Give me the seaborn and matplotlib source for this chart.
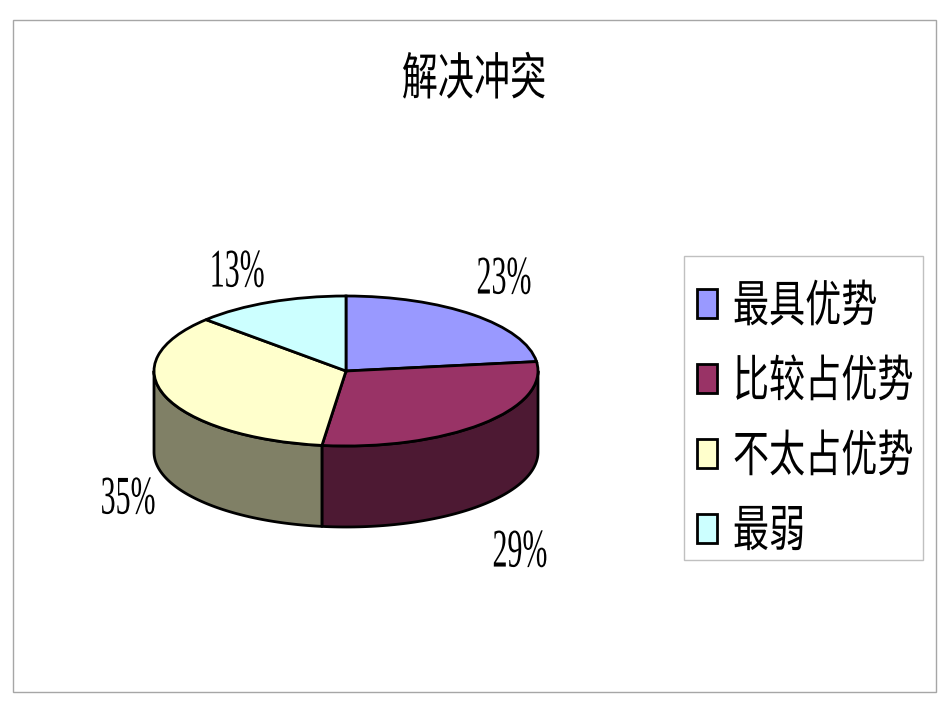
import numpy as np
import matplotlib
matplotlib.use("Agg")
import matplotlib.pyplot as plt
from matplotlib.patches import Rectangle, Patch
from matplotlib.patheffects import AbstractPathEffect
from matplotlib.transforms import Affine2D
import seaborn as sns

title = "解决冲突"
categories = ["最具优势", "比较占优势", "不太占优势", "最弱"]
values = [23, 29, 35, 13]
top_colors = ["#9999FF", "#993366", "#FFFFCC", "#CCFFFF"]
side_colors = ["#4D4D80", "#4D1933", "#808066", "#668080"]


class Stretch(AbstractPathEffect):
    """Draw real text narrower/taller about its own centre."""
    def __init__(self, sx, sy):
        super().__init__()
        self.sx, self.sy = sx, sy

    def draw_path(self, renderer, gc, tpath, affine, rgbFace=None):
        box = tpath.transformed(affine).get_extents()
        cx, cy = (box.x0 + box.x1) / 2, (box.y0 + box.y1) / 2
        st = Affine2D().translate(-cx, -cy).scale(self.sx, self.sy).translate(cx, cy)
        renderer.draw_path(gc, tpath, affine + st, rgbFace)


sns.set_theme(style="white")
plt.rcParams["font.family"] = ["Noto Sans CJK SC", "DejaVu Sans"]
W, H = 950, 713
fig = plt.figure(figsize=(W / 100, H / 100), dpi=100, facecolor="white")
ax = fig.add_axes([0, 0, 1, 1])

CX, CY, RX, RY, DEPTH = 346, 371, 192, 75, 81
palette = sns.color_palette(top_colors)
wedges, _ = ax.pie(values, colors=palette, startangle=90, counterclock=False,
                   radius=1, wedgeprops=dict(edgecolor="black", linewidth=2))
ax.set_aspect("auto")
ax.set_xlim(-CX / RX, (W - CX) / RX)
ax.set_ylim((CY - H) / RY, CY / RY)
ax.axis("off")

# side wall of the cylinder: only the front half (90..270 deg clockwise from top)
edges = np.concatenate([[0], np.cumsum(values)]) / np.sum(values) * 360
d = DEPTH / RY
for i in range(len(values)):
    a, b = max(edges[i], 90), min(edges[i + 1], 270)
    if a >= b:
        continue
    t = np.radians(np.linspace(a, b, 80))
    x, y = np.sin(t), np.cos(t)
    ax.fill(np.r_[x, x[::-1]], np.r_[y, y[::-1] - d], facecolor=side_colors[i],
            edgecolor="black", linewidth=2, joinstyle="round", zorder=0.5)

# outer frame
fig.add_artist(Rectangle((13 / W, 1 - 692 / H), 923 / W, 672 / H, transform=fig.transFigure,
                         facecolor="none", edgecolor="#a6a6a6", linewidth=1))
# legend frame, below the legend inside the axes
ax.add_patch(Rectangle((684 / W, 1 - 560 / H), 239 / W, 304 / H, transform=fig.transFigure,
                       facecolor="white", edgecolor="#c0c0c0", linewidth=1, zorder=2))

ttl = ax.set_title(title, x=474 / W, y=1 - 79 / H, va="center", fontsize=26, color="black",
                   fontweight="light", pad=0)
ttl.set_path_effects([Stretch(1.0, 1.4)])

label_xy = [(504, 279), (520, 552), (128, 499), (237, 272)]
for v, (px, py) in zip(values, label_xy):
    t = fig.text(px / W, 1 - py / H, f"{v}%", ha="center", va="center", fontsize=28,
                 family="Liberation Serif", color="black")
    t.set_path_effects([Stretch(0.77, 1.4)])

handles = [Patch(facecolor=c, edgecolor="black", linewidth=2) for c in palette]
leg = ax.legend(handles, categories, loc="upper left",
                bbox_to_anchor=(682 / W, 1 - 273 / H), bbox_transform=fig.transFigure,
                fontsize=26, frameon=False, borderaxespad=0, borderpad=0.42,
                handlelength=0.56, handleheight=0.88, handletextpad=0.43,
                labelspacing=1.08, labelcolor="black")
leg.set_zorder(3)
for t in leg.get_texts():
    t.set_fontweight("light")
    t.set_path_effects([Stretch(1.0, 1.38)])

fig.savefig("out.png", dpi=100, facecolor="white")
